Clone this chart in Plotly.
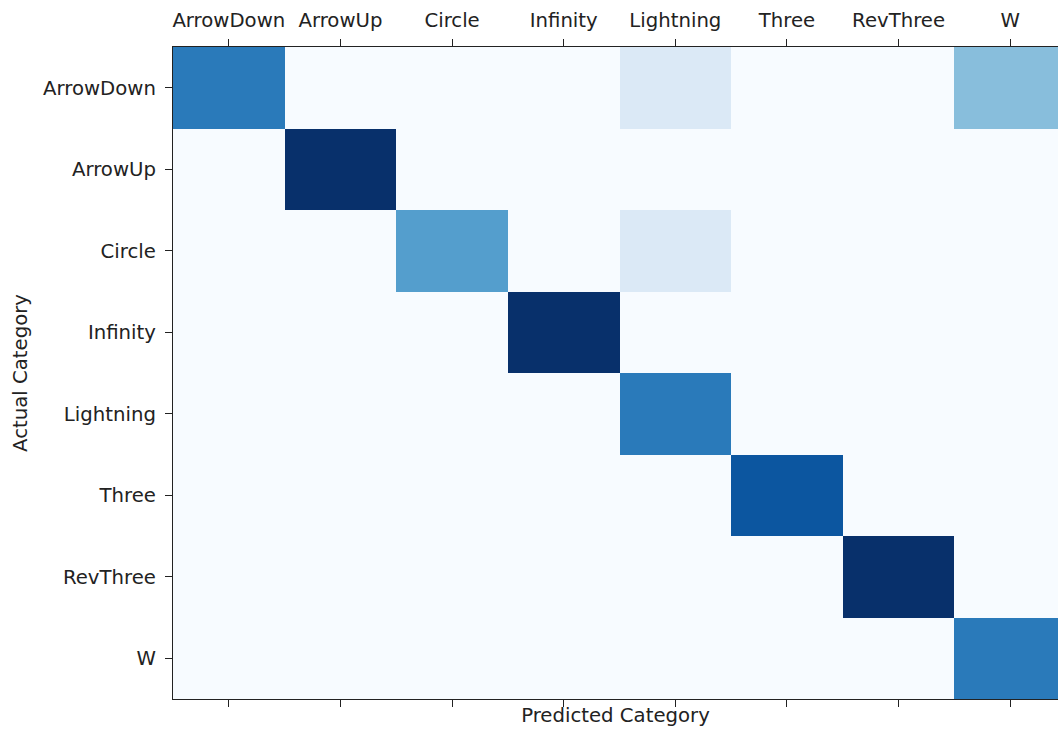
import plotly.graph_objects as go

# Confusion matrix of gesture categories (counts per actual/predicted pair)
categories = ["ArrowDown", "ArrowUp", "Circle", "Infinity", "Lightning", "Three", "RevThree", "W"]

row_arrowdown = [5, 0, 0, 0, 1, 0, 0, 3]
row_arrowup = [0, 7, 0, 0, 0, 0, 0, 0]
row_circle = [0, 0, 4, 0, 1, 0, 0, 0]
row_infinity = [0, 0, 0, 7, 0, 0, 0, 0]
row_lightning = [0, 0, 0, 0, 5, 0, 0, 0]
row_three = [0, 0, 0, 0, 0, 6, 0, 0]
row_revthree = [0, 0, 0, 0, 0, 0, 7, 0]
row_w = [0, 0, 0, 0, 0, 0, 0, 5]

matrix = [row_arrowdown, row_arrowup, row_circle, row_infinity,
          row_lightning, row_three, row_revthree, row_w]

# matplotlib "Blues" colour map anchors
blues = ["#f7fbff", "#deebf7", "#c6dbef", "#9ecae1", "#6baed6",
         "#4292c6", "#2171b5", "#08519c", "#08306b"]
colorscale = [[i / (len(blues) - 1), c] for i, c in enumerate(blues)]

idx = list(range(len(categories)))
zmax = max(max(r) for r in matrix)

fig = go.Figure()
fig.add_trace(go.Heatmap(
    z=matrix, x=idx, y=idx,
    colorscale=colorscale, zmin=0, zmax=zmax,
    showscale=False, xaxis="x", yaxis="y",
))
# invisible companion trace so the top axis carries the category labels
fig.add_trace(go.Scatter(
    x=[0], y=[0], mode="markers", marker=dict(opacity=0),
    hoverinfo="skip", showlegend=False, xaxis="x2", yaxis="y",
))

font = dict(family="DejaVu Sans", size=19.7, color="#222222")
xrange = [-0.5, 7.428]
tick_style = dict(ticks="outside", ticklen=7, tickwidth=1.2, tickcolor="#222222",
                  showline=True, linecolor="#222222", linewidth=1.3,
                  showgrid=False, zeroline=False)

fig.update_layout(
    width=1058, height=731,
    margin=dict(l=172.5, r=0, t=46.5, b=31.5),
    paper_bgcolor="white", plot_bgcolor="white",
    font=font,
    xaxis=dict(
        range=xrange, tickvals=idx, showticklabels=False,
        title=dict(text="Predicted Category", font=font, standoff=2),
        **tick_style,
    ),
    xaxis2=dict(
        range=xrange, overlaying="x", side="top", matches="x",
        tickvals=idx, ticktext=categories, tickfont=font,
        ticklabelstandoff=4,
        **tick_style,
    ),
    yaxis=dict(
        range=[7.5, -0.5], tickvals=idx, ticktext=categories, tickfont=font,
        ticklabelstandoff=5,
        title=dict(text="Actual Category", font=font, standoff=10),
        **tick_style,
    ),
)

fig.write_html("out.html")
